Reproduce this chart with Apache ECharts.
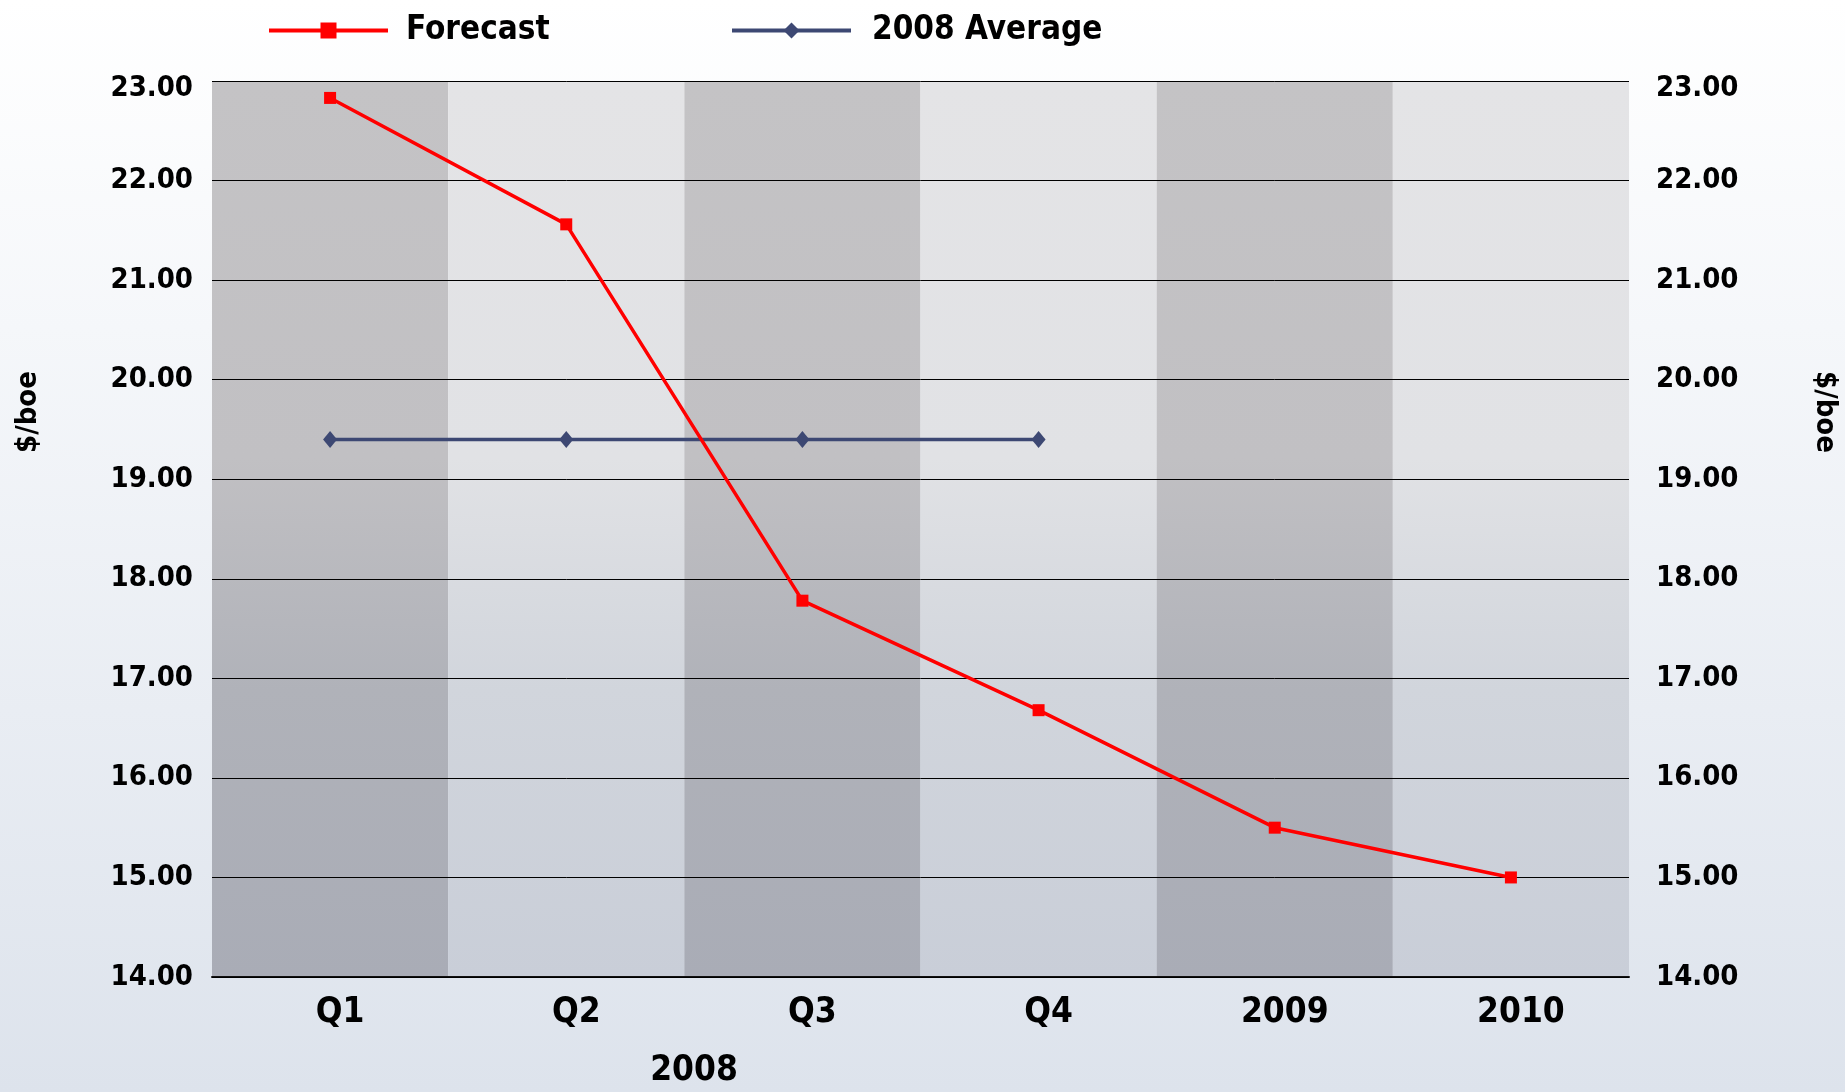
<!DOCTYPE html>
<html>
<head>
<meta charset="utf-8">
<title>Forecast vs 2008 Average ($/boe)</title>
<script src="https://cdn.jsdelivr.net/npm/echarts@6/dist/echarts.min.js"></script>
<style>
  html, body {
    margin: 0;
    padding: 0;
    width: 1845px;
    height: 1092px;
    overflow: hidden;
  }
  #chart {
    width: 1845px;
    height: 1092px;
  }
</style>
</head>
<body>
<div id="chart"></div>
<script>
// data
const categories = ['Q1', 'Q2', 'Q3', 'Q4', '2009', '2010']
const forecastValues = [22.83, 21.56, 17.78, 16.68, 15.5, 15.0]
const averageValues = [19.4, 19.4, 19.4, 19.4]
const yMin = 14
const yMax = 23
const yStep = 1
const groupLabel = '2008'
const unitLabel = '$/boe'

const FONT = '"Liberation Sans Narrow", "DejaVu Sans Condensed", "Noto Sans", sans-serif'

const chart = echarts.init(document.getElementById('chart'))

// bands get darker and bluer toward the bottom
const darkBand = new echarts.graphic.LinearGradient(0, 0, 0, 1, [
  { offset: 0, color: '#c4c3c5' },
  { offset: 0.42, color: '#c1c0c3' },
  { offset: 0.68, color: '#b0b2b9' },
  { offset: 1, color: '#a9acb6' }
])
const lightBand = new echarts.graphic.LinearGradient(0, 0, 0, 1, [
  { offset: 0, color: '#e4e4e6' },
  { offset: 0.42, color: '#e1e2e5' },
  { offset: 0.68, color: '#d1d5dc' },
  { offset: 1, color: '#c9ced8' }
])

// top tick label sits a little below its gridline
const yLabel = {
  fontFamily: FONT,
  fontWeight: 'bold',
  fontSize: 29,
  color: '#000',
  formatter: (v) => (v === yMax ? '{top|' + v.toFixed(2) + '}' : v.toFixed(2)),
  rich: {
    top: {
      fontFamily: FONT,
      fontWeight: 'bold',
      fontSize: 29,
      color: '#000',
      padding: [14, 0, 0, 0]
    }
  }
}

const legendText = {
  fontFamily: FONT,
  fontWeight: 'bold',
  fontSize: 33,
  color: '#000'
}

const option = {
  backgroundColor: new echarts.graphic.LinearGradient(0, 0, 0, 1, [
    { offset: 0, color: '#ffffff' },
    { offset: 0.3, color: '#f5f7fa' },
    { offset: 1, color: '#dde3ec' }
  ]),
  animation: false,
  legend: [
    {
      data: ['Forecast'],
      left: 262,
      top: 9,
      itemWidth: 119,
      itemHeight: 20,
      lineStyle: { width: 4 },
      textStyle: { ...legendText, padding: [0, 0, 0, 13] }
    },
    {
      data: ['2008 Average'],
      left: 725,
      top: 9,
      itemWidth: 119,
      itemHeight: 20,
      lineStyle: { width: 4 },
      textStyle: { ...legendText, padding: [0, 0, 0, 16] }
    }
  ],
  grid: {
    left: 212,
    right: 216,
    top: 81,
    bottom: 115
  },
  xAxis: {
    type: 'category',
    data: categories,
    boundaryGap: true,
    z: 0,
    axisLine: { lineStyle: { color: '#111', width: 2 } },
    axisTick: { show: false },
    axisLabel: {
      fontFamily: FONT,
      fontWeight: 'bold',
      fontSize: 35,
      color: '#000',
      margin: 18,
      padding: [0, 0, 0, 20]
    },
    splitLine: { show: false },
    splitArea: {
      show: true,
      areaStyle: { color: [darkBand, lightBand] }
    }
  },
  yAxis: [
    {
      type: 'value',
      min: yMin,
      max: yMax,
      interval: yStep,
      position: 'left',
      z: 1,
      axisLine: { show: false },
      axisTick: { show: false },
      axisLabel: { ...yLabel, margin: 19 },
      splitLine: { lineStyle: { color: '#000', width: 1 } }
    },
    {
      type: 'value',
      min: yMin,
      max: yMax,
      interval: yStep,
      position: 'right',
      z: 1,
      axisLine: { show: false },
      axisTick: { show: false },
      axisLabel: { ...yLabel, margin: 27 },
      splitLine: { show: false }
    }
  ],
  series: [
    {
      name: 'Forecast',
      type: 'line',
      data: forecastValues,
      symbol: 'rect',
      symbolSize: 12,
      lineStyle: { color: '#ff0000', width: 3.5 },
      itemStyle: { color: '#ff0000' },
      z: 4
    },
    {
      name: '2008 Average',
      type: 'line',
      data: averageValues,
      symbol: 'diamond',
      symbolSize: [14, 17],
      lineStyle: { color: '#3d4873', width: 3.5 },
      itemStyle: { color: '#3d4873' },
      z: 3
    }
  ],
  graphic: [
    {
      type: 'text',
      x: 694,
      y: 1071,
      style: {
        text: groupLabel,
        font: 'bold 35px ' + FONT,
        fill: '#000',
        align: 'center',
        verticalAlign: 'middle'
      }
    },
    {
      type: 'text',
      x: 28,
      y: 412,
      rotation: Math.PI / 2,
      style: {
        text: unitLabel,
        font: 'bold 29px ' + FONT,
        fill: '#000',
        align: 'center',
        verticalAlign: 'middle'
      }
    },
    {
      type: 'text',
      x: 1825,
      y: 412,
      rotation: -Math.PI / 2,
      style: {
        text: unitLabel,
        font: 'bold 29px ' + FONT,
        fill: '#000',
        align: 'center',
        verticalAlign: 'middle'
      }
    }
  ]
}

chart.setOption(option)
</script>
</body>
</html>
